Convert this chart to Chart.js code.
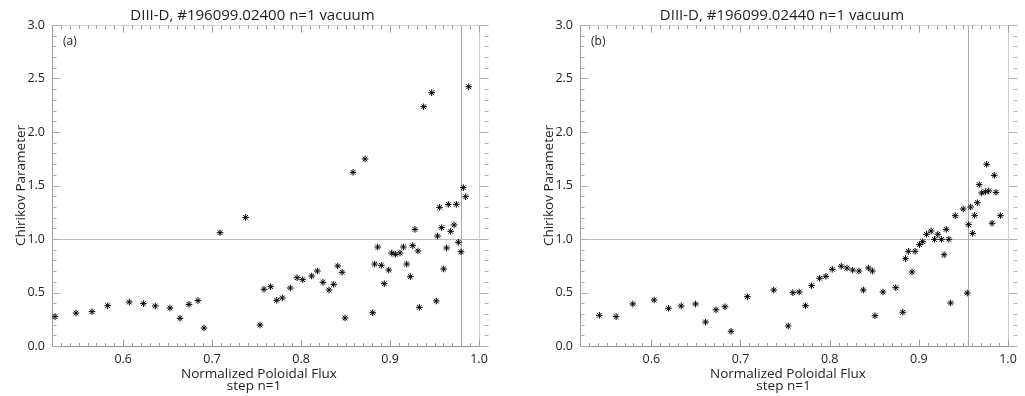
<!DOCTYPE html>
<html><head><meta charset="utf-8">
<script src="https://cdn.jsdelivr.net/npm/chart.js@4"></script>
<style>
html,body{margin:0;padding:0;background:#fff;width:1025px;height:396px;overflow:hidden}
.p{position:absolute;top:0;height:396px}
#w1{left:0;width:512px}
#w2{left:512px;width:513px}
</style></head><body>
<div class="p" id="w1"><canvas id="c1" width="512" height="396"></canvas></div>
<div class="p" id="w2"><canvas id="c2" width="513" height="396"></canvas></div>
<script>
const xTicks = [0.6, 0.7, 0.8, 0.9, 1.0];
const yTicks = [0.0, 0.5, 1.0, 1.5, 2.0, 2.5, 3.0];

const titleA = "DIII-D, #196099.02400 n=1 vacuum";
const titleB = "DIII-D, #196099.02440 n=1 vacuum";
const xTitle1 = "Normalized Poloidal Flux";
const xTitle2 = "step n=1";
const yTitle = "Chirikov Parameter";

const xA = [0.5234,0.547,0.565,0.5826,0.6069,0.6227,0.6361,0.6526,0.6639,0.674,0.6841,0.6909,0.7089,0.7377,0.7538,0.7583,0.7658,0.7726,0.7789,0.7879,0.7955,0.8018,0.8119,0.8183,0.8246,0.8314,0.8367,0.8412,0.8461,0.8494,0.8584,0.8719,0.8805,0.8827,0.8861,0.8902,0.8935,0.8985,0.9019,0.9059,0.9112,0.915,0.9187,0.9228,0.9255,0.928,0.9314,0.9329,0.9378,0.9468,0.952,0.9534,0.9557,0.958,0.9602,0.9636,0.9655,0.9682,0.972,0.9745,0.9768,0.9798,0.9824,0.985,0.9884];
const yA = [0.274,0.308,0.321,0.377,0.411,0.396,0.374,0.355,0.259,0.389,0.424,0.168,1.059,1.202,0.196,0.530,0.554,0.427,0.449,0.542,0.638,0.620,0.654,0.701,0.595,0.523,0.576,0.748,0.689,0.262,1.623,1.748,0.311,0.766,0.925,0.754,0.582,0.710,0.869,0.857,0.869,0.925,0.766,0.648,0.938,1.090,0.888,0.361,2.236,2.367,0.421,1.028,1.296,1.106,0.720,0.916,1.324,1.072,1.131,1.324,0.969,0.881,1.480,1.395,2.423];

const xB = [0.517,0.5417,0.5605,0.5792,0.6032,0.6193,0.6335,0.6496,0.6608,0.6725,0.6826,0.6894,0.7077,0.7373,0.7535,0.7587,0.7658,0.7729,0.7797,0.7887,0.7957,0.8029,0.8130,0.8194,0.8258,0.8329,0.8378,0.8434,0.8479,0.8508,0.8598,0.8741,0.8820,0.8850,0.8883,0.8924,0.8958,0.9007,0.9044,0.9086,0.9138,0.9176,0.9213,0.9255,0.9284,0.9307,0.9337,0.9356,0.9408,0.9498,0.9543,0.9559,0.9581,0.9604,0.9626,0.9656,0.9677,0.9705,0.9746,0.9761,0.9784,0.9821,0.9846,0.9865,0.9914];
const yB = [0.28,0.287,0.274,0.393,0.430,0.352,0.374,0.393,0.224,0.339,0.367,0.137,0.461,0.523,0.187,0.498,0.505,0.377,0.564,0.633,0.651,0.717,0.745,0.729,0.710,0.701,0.523,0.729,0.701,0.283,0.505,0.545,0.315,0.816,0.885,0.692,0.885,0.947,0.975,1.044,1.075,0.997,1.044,0.997,0.853,1.090,0.997,0.402,1.218,1.280,0.495,1.134,1.299,1.053,1.221,1.339,1.508,1.430,1.442,1.698,1.449,1.147,1.595,1.436,1.218];

const xMin = 0.52, xMax = 1.0, yMin = 0, yMax = 3;
const refY = 1.0;
const vlineA = 0.980, vlineB = 0.955;

const FONT = "'Open Sans', 'DejaVu Sans', sans-serif";

const deco = {
  id: 'deco',
  beforeDatasetsDraw(chart, args, o) {
    const {ctx, chartArea: a, scales: {x, y}} = chart;
    ctx.save();
    ctx.lineWidth = 1;
    ctx.strokeStyle = '#bcbcbc';
    const py1 = Math.round(y.getPixelForValue(refY)) + 0.5;
    ctx.beginPath(); ctx.moveTo(a.left, py1); ctx.lineTo(a.right, py1); ctx.stroke();
    ctx.strokeStyle = '#a8a8a8';
    const pxv = Math.round(x.getPixelForValue(o.vline)) + 0.5;
    ctx.beginPath(); ctx.moveTo(pxv, a.top); ctx.lineTo(pxv, a.bottom); ctx.stroke();
    const L = Math.round(a.left) + 0.5, R = Math.round(a.right) + 0.5;
    const T = Math.round(a.top) + 0.5, B = Math.round(a.bottom) + 0.5;
    ctx.strokeStyle = '#9c9c9c';
    ctx.beginPath();
    ctx.moveTo(L, T); ctx.lineTo(L, B); ctx.lineTo(R, B);
    ctx.stroke();
    ctx.strokeStyle = '#cfcfcf';
    ctx.beginPath(); ctx.moveTo(L, T); ctx.lineTo(R, T); ctx.moveTo(R, T); ctx.lineTo(R, B); ctx.stroke();
    ctx.strokeStyle = '#9c9c9c';
    ctx.beginPath();
    for (let i = 52; i <= 100; i++) {
      const px = Math.round(x.getPixelForValue(i / 100)) + 0.5;
      const len = (i % 10 === 0) ? 7 : 3.5;
      ctx.moveTo(px, B); ctx.lineTo(px, B - len);
      ctx.moveTo(px, T); ctx.lineTo(px, T + len);
    }
    ctx.stroke();
    ctx.beginPath();
    for (let i = 0; i <= 30; i++) {
      const py = Math.round(y.getPixelForValue(i / 10)) + 0.5;
      const major = (i % 5 === 0);
      const len = major ? 8 : 4;
      ctx.moveTo(L, py); ctx.lineTo(L + len, py);
      ctx.moveTo(R + 9, py); ctx.lineTo(R + 9 - (major ? 9 : 4), py);
    }
    ctx.strokeStyle = '#b0b0b0';
    ctx.stroke();
    ctx.restore();
  },
  afterDraw(chart, args, o) {
    const {ctx, chartArea: a} = chart;
    ctx.save();
    ctx.fillStyle = '#1e1e1e';
    ctx.textBaseline = 'alphabetic';
    ctx.font = "15px " + FONT;
    ctx.textAlign = 'center';
    ctx.fillText(o.title, o.titleX, 20);
    ctx.font = "13.5px " + FONT;
    ctx.fillText(xTitle1, o.xt1X, 378);
    ctx.fillText(xTitle2, o.xt2X, 390);
    ctx.font = "12px " + FONT;
    ctx.textAlign = 'left';
    ctx.fillText(o.tag, a.left + 11, 45);
    ctx.translate(o.ytX, (a.top + a.bottom) / 2);
    ctx.rotate(-Math.PI / 2);
    ctx.textAlign = 'center';
    ctx.font = "13.5px " + FONT;
    ctx.fillText(yTitle, 0, 0);
    ctx.restore();
  }
};

function makeChart(id, xs, ys, leftW, padR, decoOpts) {
  const pts = xs.map((v, i) => ({x: v, y: ys[i]}));
  return new Chart(document.getElementById(id), {
    type: 'scatter',
    data: {datasets: [{
      data: pts,
      pointStyle: 'star',
      pointRadius: 3.3,
      pointBorderWidth: 1,
      borderColor: '#000',
      backgroundColor: '#000',
      pointHoverRadius: 3.3,
      clip: 0
    }]},
    plugins: [deco],
    options: {
      responsive: false,
      animation: false,
      devicePixelRatio: 1,
      events: [],
      layout: {padding: {left: 0, right: padR, top: 25, bottom: 0}},
      plugins: {legend: {display: false}, tooltip: {enabled: false}, title: {display: false}, deco: decoOpts},
      scales: {
        x: {
          type: 'linear', min: xMin, max: xMax,
          grid: {display: false, drawTicks: false}, border: {display: false},
          afterBuildTicks: s => { s.ticks = xTicks.map(v => ({value: v})); },
          afterFit: s => { s.height = 50; },
          ticks: {autoSkip: false, maxRotation: 0, padding: 6, color: '#222',
                  font: {family: FONT, size: 12.5}, callback: v => v.toFixed(1)}
        },
        y: {
          type: 'linear', min: yMin, max: yMax,
          grid: {display: false, drawTicks: false}, border: {display: false},
          afterBuildTicks: s => { s.ticks = yTicks.map(v => ({value: v})); },
          afterFit: s => { s.width = leftW; },
          ticks: {autoSkip: false, padding: 7, color: '#222',
                  font: {family: FONT, size: 12.5}, callback: v => v.toFixed(1)}
        }
      }
    }
  });
}

makeChart('c1', xA, yA, 52, 33, {vline: vlineA, title: titleA, titleX: 252.5, xt1X: 259, xt2X: 254, ytX: 25, tag: '(a)'});
makeChart('c2', xB, yB, 68, 17, {vline: vlineB, title: titleB, titleX: 270, xt1X: 276, xt2X: 271.5, ytX: 41, tag: '(b)'});
</script>
</body></html>
